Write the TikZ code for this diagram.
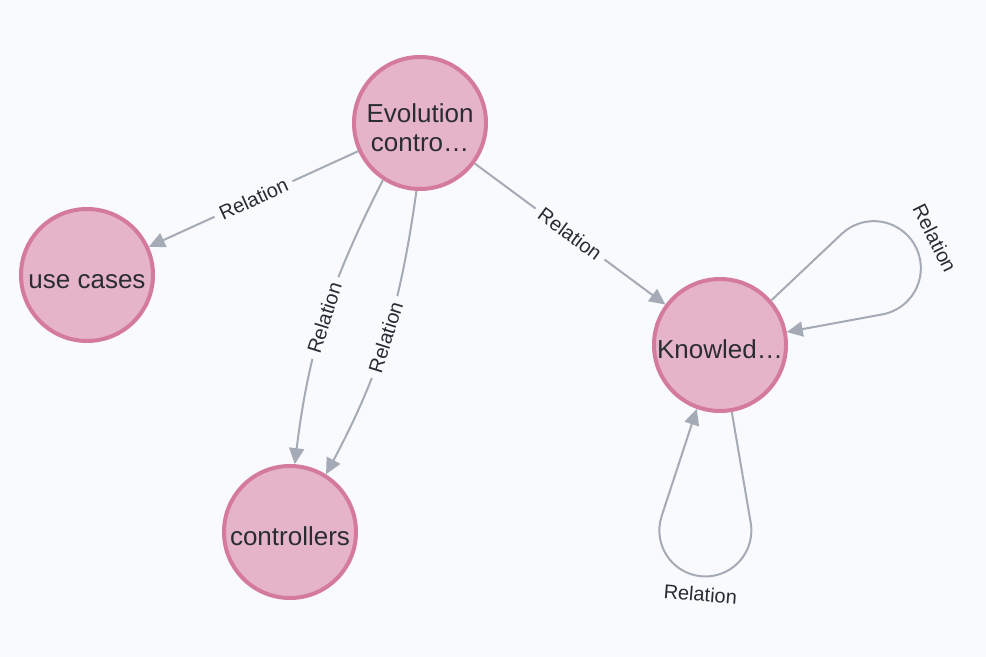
\documentclass[tikz,border=0pt]{standalone}
\usepackage{fontspec}
\setmainfont{Liberation Sans}
\usetikzlibrary{arrows.meta,calc}
\definecolor{canvas}{HTML}{F8FAFD}
\definecolor{nodefill}{HTML}{E6B4C8}
\definecolor{nodeborder}{HTML}{D47A9D}
\definecolor{edgegray}{HTML}{A5ABB6}
\definecolor{inktext}{HTML}{2A2C34}
\begin{document}
\begin{tikzpicture}[x=0.5pt,y=0.5pt,
  entity/.style={circle, fill=nodefill, draw=nodeborder, line width=2pt,
    minimum size=66pt, inner sep=0pt, text=inktext,
    font=\fontsize{13}{14.5}\selectfont, align=center},
  oneline/.style={text height=13.5pt, text depth=0pt},
  rel/.style={draw=edgegray, line width=1pt,
    -{Triangle[length=8pt,width=7.5pt]}},
  rellabel/.style={fill=canvas, text=inktext,
    font=\fontsize{10}{12}\selectfont, inner sep=3pt, sloped},
  looplabel/.style={text=inktext, font=\fontsize{10}{12}\selectfont, inner sep=1pt}]

% canvas
\fill[canvas] (0,0) rectangle (986,-657);
\useasboundingbox (0,0) rectangle (986,-657);

% nodes
\node[entity] (evo) at (420,-123) {\rule{0pt}{14.5pt}Evolution\\contro…};
\node[entity, oneline] (uc) at (87,-275) {use cases};
\node[entity, oneline] (ctl) at (290,-532) {controllers};
\node[entity, oneline] (kn) at (720,-345) {Knowled…};

% straight relations
\draw[rel] (evo) -- node[rellabel] (l1) {Relation} (uc);
\draw[rel] (evo) -- node[rellabel] (l2) {Relation} (kn);

% the two parallel relations, bent apart
\draw[rel] (evo.237) to[out=243, in=83] node[rellabel] (l3) {Relation} (ctl.86);
\draw[rel] (evo.267) to[out=262, in=62] node[rellabel] (l4) {Relation} (ctl.58);

% self loop, upper right (axis 26.5 deg)
\draw[rel] (kn.41.5) -- ($(kn.center)+(42.4:165)$)
  arc[start angle=132.9, end angle=-79.9, radius=23.5pt] -- (kn.11.5);
\node[looplabel, rotate=-63.5] (l5) at ($(kn.center)+(26.5:240)$) {Relation};

% self loop, below (axis 265.5 deg)
\draw[rel] (kn.280.5) -- ($(kn.center)+(279.8:180.5)$)
  arc[start angle=369.5, end angle=161.5, radius=23pt] -- (kn.250.5);
\node[looplabel, rotate=-4.5] (l6) at ($(kn.center)+(265.5:250)$) {Relation};
\end{tikzpicture}
\end{document}
